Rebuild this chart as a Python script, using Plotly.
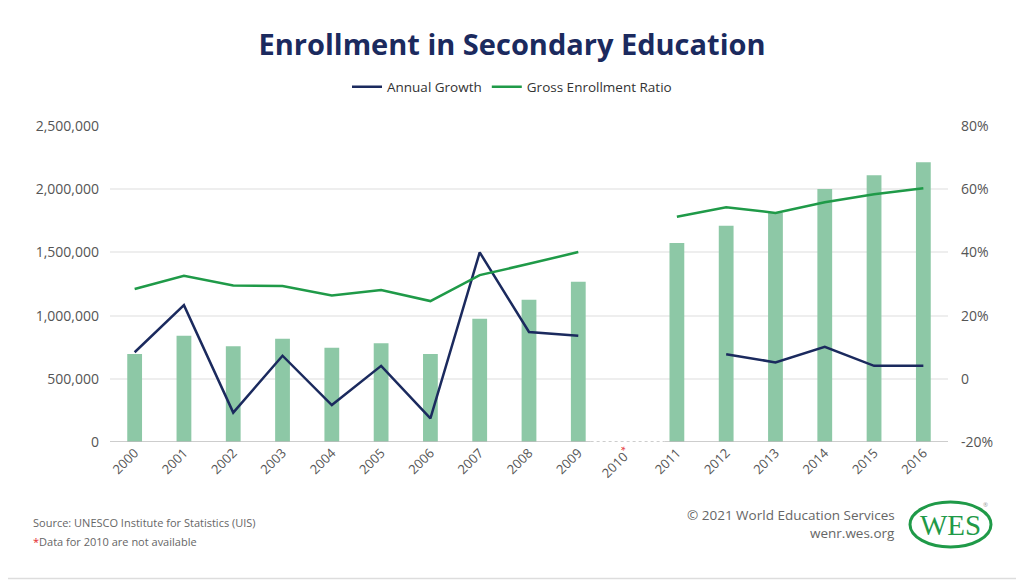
import plotly.graph_objects as go

years = [str(y) for y in range(2000, 2017)]
year_labels = [y if y != "2010" else "2010<sup><span style='color:#e3262b'>*</span></sup>" for y in years]
enrollment = [696000, 841000, 757000, 817000, 746000, 781000, 696000, 975000, 1126000, 1268000,
              None, 1574000, 1711000, 1814000, 2002000, 2110000, 2213000]
annual_growth = [8.4, 23.3, -10.7, 7.3, -8.3, 4.1, -12.5, 40.0, 14.8, 13.6,
                 None, None, 7.8, 5.2, 10.1, 4.1, 4.1]
gross_enrollment_ratio = [28.4, 32.6, 29.5, 29.4, 26.4, 28.1, 24.6, 32.8, 36.4, 40.1,
                          None, 51.3, 54.3, 52.5, 55.9, 58.4, 60.3]
left_ticks = [0, 500000, 1000000, 1500000, 2000000, 2500000]
right_ticks = [-20, 0, 20, 40, 60, 80]
right_labels = ["-20%", "0", "20%", "40%", "60%", "80%"]

NAVY = "#1b2a5e"
GREEN = "#1f9a48"
BAR = "#8dc8a6"
TICK = "#555555"
FONT = "Open Sans"

# The page body has an 8px margin; the figure starts at (8, 8) in the window.
OFF = 8
W, H = 1024 - OFF, 580 - OFF
# plot area in window pixels
PL, PR, PT, PB = 110, 948, 126, 442
L, T = PL - OFF, PT - OFF
R, B = (W + OFF) - PR, (H + OFF) - PB
PW, PH = PR - PL, PB - PT


def px(x):
    return (x - PL) / PW


def py(y):
    return (PB - y) / PH


fig = go.Figure()
fig.add_trace(go.Bar(x=years, y=enrollment, marker=dict(color=BAR, line=dict(width=0)),
                     width=0.3, showlegend=False, name="Enrollment"))
fig.add_trace(go.Scatter(x=years, y=annual_growth, yaxis="y2", mode="lines",
                         line=dict(color=NAVY, width=2.5), name="Annual Growth",
                         connectgaps=False))
fig.add_trace(go.Scatter(x=years, y=gross_enrollment_ratio, yaxis="y2", mode="lines",
                         line=dict(color=GREEN, width=2.5), name="Gross Enrollment Ratio",
                         connectgaps=False))

shapes = [
    dict(type="line", xref="x", yref="y", x0=-0.5, x1=9.25, y0=0, y1=0,
         line=dict(color="#bdbdbd", width=1.5), layer="above"),
    dict(type="line", xref="x", yref="y", x0=9.25, x1=10.75, y0=0, y1=0,
         line=dict(color="#bdbdbd", width=1.5, dash="dot"), layer="above"),
    dict(type="line", xref="x", yref="y", x0=10.75, x1=16.5, y0=0, y1=0,
         line=dict(color="#bdbdbd", width=1.5), layer="above"),
    # outer frame (right and bottom edges)
    dict(type="line", xref="paper", yref="paper", x0=px(1019.5), x1=px(1019.5), y0=py(OFF), y1=py(578.5),
         line=dict(color="#dddddd", width=1.5)),
    dict(type="line", xref="paper", yref="paper", x0=px(OFF), x1=px(1019.5), y0=py(578.5), y1=py(578.5),
         line=dict(color="#dddddd", width=1.5)),
    # WES logo ellipse
    dict(type="circle", xref="paper", yref="paper", x0=px(910), x1=px(991), y0=py(502), y1=py(547),
         line=dict(color=GREEN, width=3)),
]

annotations = [
    dict(text="Source: UNESCO Institute for Statistics (UIS)", xref="paper", yref="paper",
         x=px(31), y=py(522), xanchor="left", yanchor="middle", showarrow=False,
         font=dict(family=FONT, size=11, color="#666666")),
    dict(text="<span style='color:#e3262b'>*</span>Data for 2010 are not available", xref="paper", yref="paper",
         x=px(31), y=py(541), xanchor="left", yanchor="middle", showarrow=False,
         font=dict(family=FONT, size=11, color="#666666")),
    dict(text="© 2021 World Education Services", xref="paper", yref="paper",
         x=px(897), y=py(515), xanchor="right", yanchor="middle", showarrow=False,
         font=dict(family=FONT, size=13.5, color="#666666")),
    dict(text="wenr.wes.org", xref="paper", yref="paper",
         x=px(897), y=py(533), xanchor="right", yanchor="middle", showarrow=False,
         font=dict(family=FONT, size=13.5, color="#666666")),
    dict(text="WES", xref="paper", yref="paper",
         x=px(950.5), y=py(525), xanchor="center", yanchor="middle", showarrow=False,
         font=dict(family="Liberation Serif", size=29, color=GREEN)),
    dict(text="®", xref="paper", yref="paper",
         x=px(981), y=py(505), xanchor="left", yanchor="middle", showarrow=False,
         font=dict(family=FONT, size=6, color="#999999")),
]

fig.update_layout(
    width=W, height=H,
    margin=dict(l=L, r=R, t=T, b=B),
    paper_bgcolor="white", plot_bgcolor="white",
    font=dict(family=FONT, color=TICK, size=14),
    title=dict(text="<b>Enrollment in Secondary Education</b>", x=(512 - OFF) / W, xanchor="center",
               y=1 - (45 - OFF) / H, yanchor="middle", yref="container",
               font=dict(family=FONT, size=29, color=NAVY)),
    legend=dict(orientation="h", x=px(512), xanchor="center", y=py(87), yanchor="middle",
                font=dict(family=FONT, size=13.5, color="#333333"), itemwidth=30,
                bgcolor="rgba(0,0,0,0)"),
    xaxis=dict(type="category", range=[-0.5, 16.5], tickvals=years, ticktext=year_labels,
               tickangle=-45, showgrid=False, showline=False, zeroline=False,
               tickfont=dict(family=FONT, size=13, color=TICK), ticks=""),
    yaxis=dict(range=[0, 2500000], tickvals=left_ticks, tickformat=",", showgrid=True,
               gridcolor="#eeeeee", gridwidth=1.5, zeroline=False, showline=False,
               tickfont=dict(family=FONT, size=14, color=TICK), ticklabelstandoff=10),
    yaxis2=dict(range=[-20, 80], tickvals=right_ticks, ticktext=right_labels, overlaying="y",
                side="right", showgrid=False, zeroline=False, showline=False,
                tickfont=dict(family=FONT, size=14, color=TICK), ticklabelstandoff=12),
    shapes=shapes,
    annotations=annotations,
    bargap=0.7,
)

fig.write_html("out.html")
